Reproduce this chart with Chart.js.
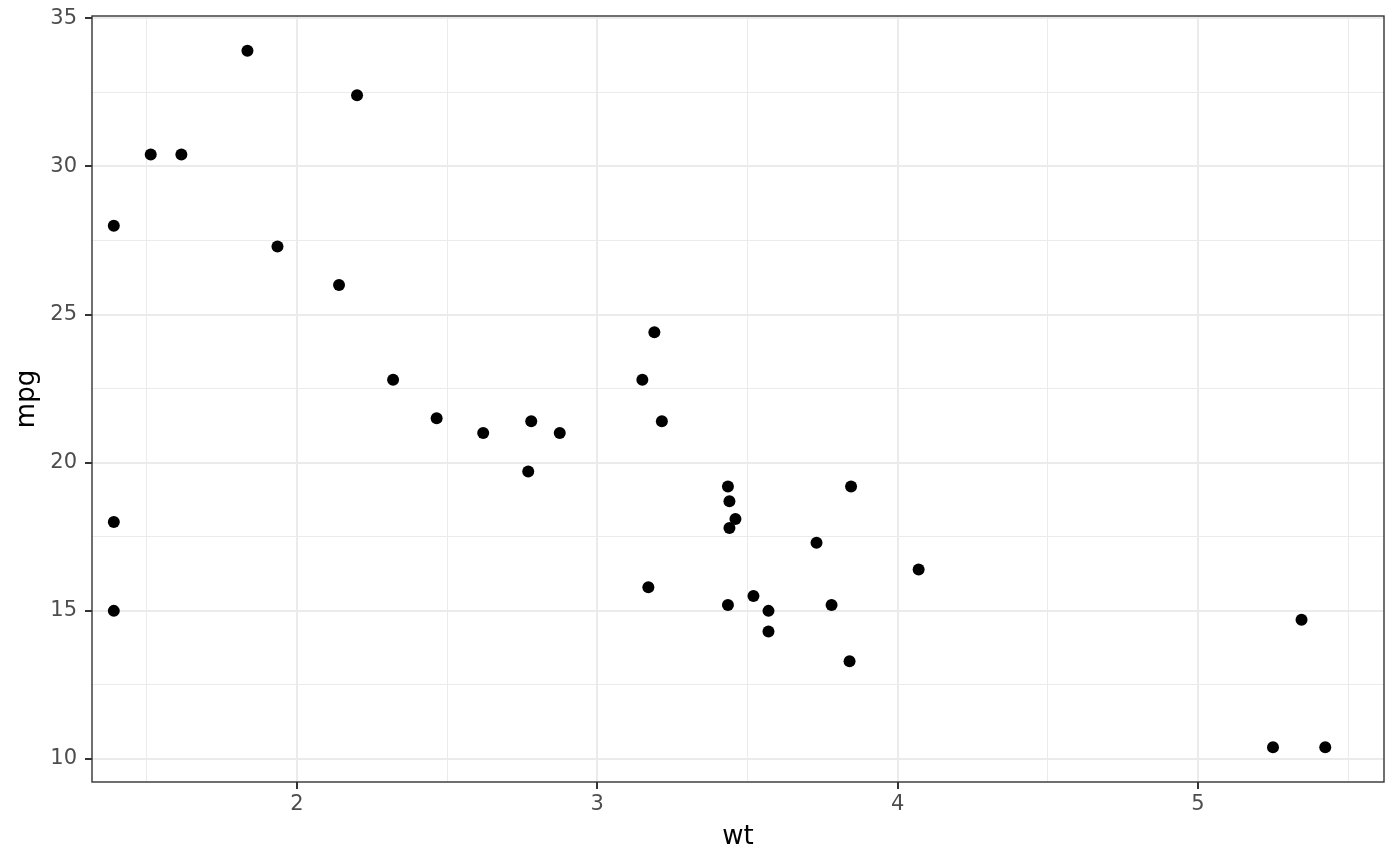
<!DOCTYPE html>
<html>
<head>
<meta charset="utf-8">
<script src="https://cdn.jsdelivr.net/npm/chart.js@4/dist/chart.umd.min.js"></script>
<style>
  html, body { margin: 0; padding: 0; background: #fff; }
  #wrap { width: 1400px; height: 866px; }
</style>
</head>
<body>
<div id="wrap"><canvas id="plot"></canvas></div>
<script>
// weight (1000 lbs) and miles per gallon
var wt = [1.39, 1.39, 1.39, 1.513, 1.615, 1.835, 1.935, 2.14, 2.2, 2.32,
          2.465, 2.62, 2.77, 2.78, 2.875, 3.15, 3.17, 3.19, 3.215, 3.435,
          3.44, 3.44, 3.46, 3.435, 3.52, 3.57, 3.57, 3.73, 3.78, 3.84,
          3.845, 4.07, 5.25, 5.345, 5.424];
var mpg = [28.0, 18.0, 15.0, 30.4, 30.4, 33.9, 27.3, 26.0, 32.4, 22.8,
           21.5, 21.0, 19.7, 21.4, 21.0, 22.8, 15.8, 24.4, 21.4, 19.2,
           18.7, 17.8, 18.1, 15.2, 15.5, 15.0, 14.3, 17.3, 15.2, 13.3,
           19.2, 16.4, 10.4, 14.7, 10.4];

var xTicks = [1.5, 2, 2.5, 3, 3.5, 4, 4.5, 5, 5.5];
var yTicks = [10, 12.5, 15, 17.5, 20, 22.5, 25, 27.5, 30, 32.5, 35];
var xLimits = [1.3174, 5.6196];
var yLimits = [9.225, 35.075];

var points = wt.map(function (w, i) { return { x: w, y: mpg[i] }; });

function isMajorX(v) { return Math.abs(v - Math.round(v)) < 1e-9; }
function isMajorY(v) { return Math.abs(v / 5 - Math.round(v / 5)) < 1e-9; }

var panelBorder = {
  id: 'panelBorder',
  afterDraw: function (chart) {
    var a = chart.chartArea, c = chart.ctx;
    c.save();
    c.strokeStyle = '#333333';
    c.lineWidth = 1.4;
    c.strokeRect(a.left, a.top, a.right - a.left, a.bottom - a.top);
    c.restore();
  }
};

Chart.defaults.font.family = '"DejaVu Sans", sans-serif';

new Chart(document.getElementById('plot').getContext('2d'), {
  type: 'scatter',
  data: {
    datasets: [{
      data: points,
      backgroundColor: '#000000',
      borderWidth: 0,
      pointRadius: 6,
      pointHoverRadius: 6
    }]
  },
  plugins: [panelBorder],
  options: {
    responsive: true,
    maintainAspectRatio: false,
    animation: false,
    layout: { padding: { top: 16, right: 16, left: 0, bottom: 0 } },
    plugins: { legend: { display: false }, tooltip: { enabled: false } },
    scales: {
      x: {
        type: 'linear',
        min: xLimits[0],
        max: xLimits[1],
        afterBuildTicks: function (s) { s.ticks = xTicks.map(function (v) { return { value: v }; }); },
        afterFit: function (s) { s.height = 84; s.paddingLeft = 0; s.paddingRight = 0; },
        border: { display: false },
        grid: {
          color: '#EBEBEB',
          lineWidth: function (c) { return isMajorX(c.tick.value) ? 2 : 1; },
          tickLength: 7,
          tickColor: function (c) { return isMajorX(c.tick.value) ? '#333333' : 'rgba(0,0,0,0)'; },
          tickWidth: 2
        },
        ticks: {
          autoSkip: false,
          maxRotation: 0,
          padding: 3,
          color: '#4D4D4D',
          font: { size: 21 },
          callback: function (v) { return isMajorX(v) ? String(v) : ''; }
        },
        title: {
          display: true,
          text: 'wt',
          color: '#000000',
          font: { size: 26 },
          padding: { top: 0, bottom: 13 }
        }
      },
      y: {
        type: 'linear',
        min: yLimits[0],
        max: yLimits[1],
        afterBuildTicks: function (s) { s.ticks = yTicks.map(function (v) { return { value: v }; }); },
        afterFit: function (s) { s.width = 92; s.paddingTop = 0; s.paddingBottom = 0; },
        border: { display: false },
        grid: {
          color: '#EBEBEB',
          lineWidth: function (c) { return isMajorY(c.tick.value) ? 2 : 1; },
          tickLength: 7,
          tickColor: function (c) { return isMajorY(c.tick.value) ? '#333333' : 'rgba(0,0,0,0)'; },
          tickWidth: 2
        },
        ticks: {
          autoSkip: false,
          padding: 8,
          color: '#4D4D4D',
          font: { size: 21 },
          callback: function (v) { return isMajorY(v) ? String(v) : ''; }
        },
        title: {
          display: true,
          text: 'mpg',
          color: '#000000',
          font: { size: 26 },
          padding: { top: 12, bottom: 0 }
        }
      }
    }
  }
});
</script>
</body>
</html>
